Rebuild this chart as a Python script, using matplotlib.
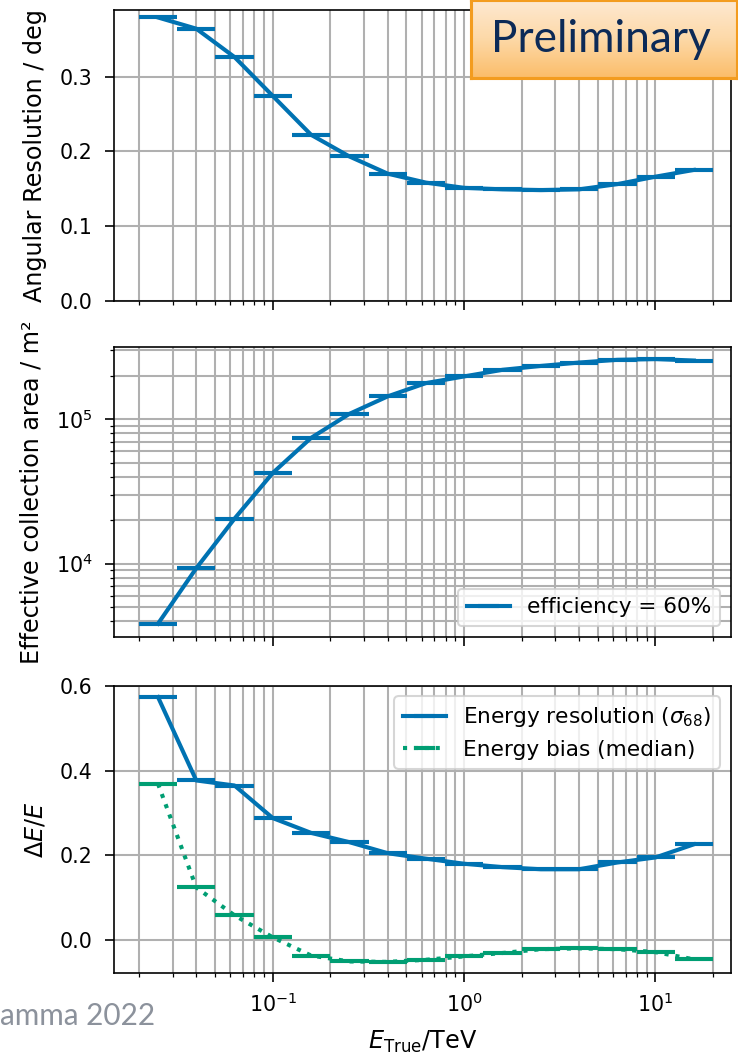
import numpy as np
import matplotlib
matplotlib.use("Agg")
from matplotlib import pyplot as plt

## 能量分箱边界 (TeV)，每箱 0.2 个数量级
energy_edges = [0.02, 0.0317, 0.0502, 0.0796, 0.126, 0.2, 0.317, 0.502,
                0.796, 1.26, 2.0, 3.17, 5.02, 7.96, 12.6, 20.0]

## 角分辨率 / deg
ang_res = [0.379, 0.364, 0.326, 0.274, 0.222, 0.193, 0.170, 0.158,
           0.151, 0.149, 0.148, 0.149, 0.156, 0.166, 0.175]

## 有效面积 / m^2
eff_area = [3840, 9290, 20500, 42500, 74300, 109000, 144000, 178000,
            198000, 220000, 234000, 247000, 258000, 261000, 255000]

## 能量分辨率和偏差
e_res = [0.574, 0.377, 0.365, 0.288, 0.253, 0.231, 0.205, 0.192,
         0.180, 0.172, 0.167, 0.167, 0.183, 0.195, 0.226]
e_bias = [0.369, 0.124, 0.058, 0.006, -0.037, -0.051, -0.052, -0.047,
          -0.039, -0.031, -0.022, -0.020, -0.022, -0.029, -0.046]

blue = "#0072b2"
green = "#009e73"

plt.rcParams["xtick.major.size"] = 4.5
plt.rcParams["ytick.major.size"] = 4.5
plt.rcParams["xtick.major.pad"] = 5
plt.rcParams["ytick.major.pad"] = 6
plt.rcParams["grid.linewidth"] = 1.0
plt.rcParams["axes.labelsize"] = 11.6
plt.rcParams["axes.labelpad"] = 6
plt.rcParams["legend.fontsize"] = 10.5

lo = np.array(energy_edges[:-1])
hi = np.array(energy_edges[1:])
center = np.sqrt(lo * hi)
xerr = [center - lo, hi - center]

W, H, dpi = 738, 1057, 148
fig = plt.figure(figsize=(W / dpi, H / dpi), dpi=dpi)

def box(l, t, r, b):
    return [l / W, 1 - b / H, (r - l) / W, (b - t) / H]

ax1 = fig.add_axes(box(114, 10, 731, 300.7))
ax2 = fig.add_axes(box(114, 346.7, 731, 636.7), sharex=ax1)
ax3 = fig.add_axes(box(114, 685.7, 731, 973.3), sharex=ax1)

kw = dict(lw=2, elinewidth=2)

ax1.errorbar(center, ang_res, xerr=xerr, color=blue, ls="-", **kw)
ax1.set_ylim(0, 0.389)
ax1.set_ylabel("Angular Resolution / deg")

ax2.errorbar(center, eff_area, xerr=xerr, color=blue, ls="-",
             label="efficiency = 60%", **kw)
ax2.set_yscale("log")
ax2.set_ylim(3120, 3.18e5)
ax2.set_ylabel("Effective collection area / m²")
ax2.legend(loc="lower right")

ax3.errorbar(center, e_res, xerr=xerr, color=blue, ls="-",
             label=r"Energy resolution ($\sigma_{68}$)", **kw)
ax3.errorbar(center, e_bias, xerr=xerr, color=green, ls=":",
             label="Energy bias (median)", **kw)
ax3.set_ylim(-0.079, 0.601)
ax3.set_yticks([0.0, 0.2, 0.4, 0.6])
ax3.set_ylabel(r"$\Delta E / E$")
ax3.set_xlabel(r"$E_\mathrm{True}$/TeV")
ax3.legend(loc="upper right")

ax1.set_xscale("log")
ax1.set_xlim(0.01483, 24.8)
for ax in (ax1, ax2, ax3):
    ax.grid(True, which="both")
    ax.set_axisbelow(True)
for ax in (ax1, ax2):
    plt.setp(ax.get_xticklabels(), visible=False)

fig.align_ylabels([ax1, ax2, ax3])

## "Preliminary" 标签框，橙色渐变
bx = fig.add_axes(box(470.7, 0, 736.7, 78.3))
grad = np.linspace(0, 1, 64).reshape(-1, 1)
cmap = matplotlib.colors.LinearSegmentedColormap.from_list(
    "prelim", ["#fde9d2", "#fdd9a8", "#fbbd6a"])
bx.imshow(grad, aspect="auto", cmap=cmap, extent=[0, 1, 0, 1])
bx.set_xticks([])
bx.set_yticks([])
for s in bx.spines.values():
    s.set_color("#f39c1f")
    s.set_linewidth(1.5)
bx.text(0.49, 0.5, "Preliminary", family="Lato", fontsize=21.5,
        color="#0c2a57", ha="center", va="center", transform=bx.transAxes)

fig.text(0.0, 1 - 1025 / H, "amma 2022", family="Lato", fontsize=14.5,
         color="#8c929c", ha="left", va="baseline")

fig.savefig("out.png", dpi=dpi)
